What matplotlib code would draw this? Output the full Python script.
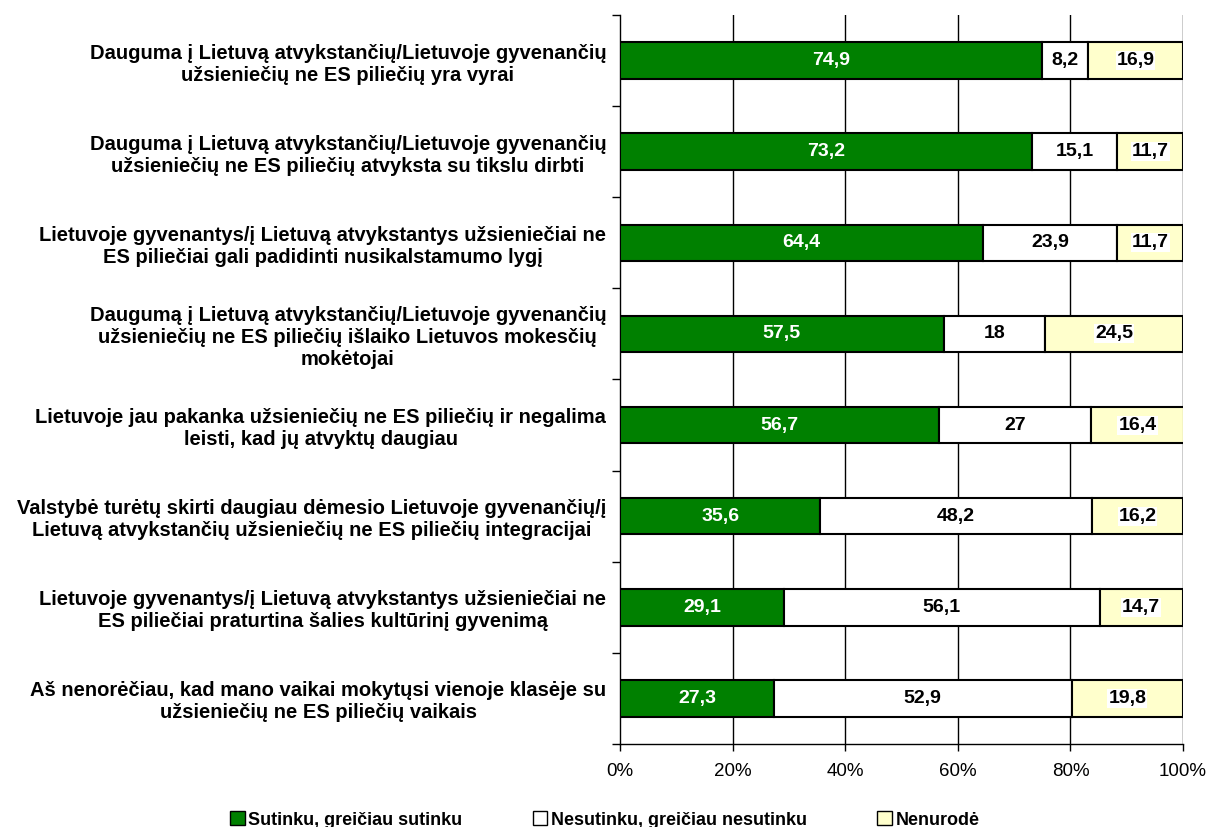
import numpy as np
import matplotlib
matplotlib.use("Agg")
import matplotlib.pyplot as plt
from matplotlib.patches import Patch

# Data (top to bottom as shown)
categories = [
    "Dauguma į Lietuvą atvykstančių/Lietuvoje gyvenančių\nužsieniečių ne ES piliečių yra vyrai",
    "Dauguma į Lietuvą atvykstančių/Lietuvoje gyvenančių\nužsieniečių ne ES piliečių atvyksta su tikslu dirbti",
    "Lietuvoje gyvenantys/į Lietuvą atvykstantys užsieniečiai ne\nES piliečiai gali padidinti nusikalstamumo lygį",
    "Daugumą į Lietuvą atvykstančių/Lietuvoje gyvenančių\nužsieniečių ne ES piliečių išlaiko Lietuvos mokesčių\nmokėtojai",
    "Lietuvoje jau pakanka užsieniečių ne ES piliečių ir negalima\nleisti, kad jų atvyktų daugiau",
    "Valstybė turėtų skirti daugiau dėmesio Lietuvoje gyvenančių/į\nLietuvą atvykstančių užsieniečių ne ES piliečių integracijai",
    "Lietuvoje gyvenantys/į Lietuvą atvykstantys užsieniečiai ne\nES piliečiai praturtina šalies kultūrinį gyvenimą",
    "Aš nenorėčiau, kad mano vaikai mokytųsi vienoje klasėje su\nužsieniečių ne ES piliečių vaikais",
]
agree = [74.9, 73.2, 64.4, 57.5, 56.7, 35.6, 29.1, 27.3]
disagree = [8.2, 15.1, 23.9, 18, 27, 48.2, 56.1, 52.9]
no_answer = [16.9, 11.7, 11.7, 24.5, 16.4, 16.2, 14.7, 19.8]
series_names = ["Sutinku, greičiau sutinku", "Nesutinku, greičiau nesutinku", "Nenurodė"]
x_ticks = [0, 20, 40, 60, 80, 100]

plt.rcParams["font.family"] = ["Liberation Sans", "DejaVu Sans"]

fig = plt.figure(figsize=(12.07, 8.27), dpi=100)
ax = fig.add_axes([0.5137, 0.1004, 0.4665, 0.8815])

n = len(categories)
y = np.arange(n)
colors = ["#008000", "#FFFFFF", "#FFFFCC"]
series = [agree, disagree, no_answer]

left = np.zeros(n)
for vals, col in zip(series, colors):
    vals = np.array(vals, dtype=float)
    ax.barh(y, vals, left=left, height=0.4, color=col, edgecolor="black",
            linewidth=1.5, zorder=3)
    for yi, (l, v) in enumerate(zip(left, vals)):
        txt = f"{v:g}".replace(".", ",")
        tc = "white" if col == "#008000" else "black"
        kw = {}
        if col == "#FFFFCC":
            kw["bbox"] = dict(boxstyle="square,pad=0.05", facecolor="white", edgecolor="none")
        ax.text(l + v / 2, yi, txt, ha="center", va="center", color=tc,
                fontsize=14, fontweight="bold", zorder=4, **kw)
    left += vals

ax.set_xlim(0, 100)
ax.set_ylim(n - 0.5, -0.5)

ax.set_xticks(x_ticks)
ax.set_xticklabels([f"{t}%" for t in x_ticks], fontsize=13.5)
ax.tick_params(axis="x", direction="out", length=5, width=1, pad=9)
for t in x_ticks[1:]:
    ax.axvline(t, color="black", linewidth=1, zorder=1)

ax.set_yticks(y)
ax.set_yticklabels(categories, fontsize=14.5, fontweight="bold")
for lab in ax.get_yticklabels():
    lab.set_multialignment("center")
ax.tick_params(axis="y", which="major", length=0, pad=10)
ax.set_yticks(np.arange(n + 1) - 0.5, minor=True)
ax.tick_params(axis="y", which="minor", direction="out", length=6, width=1)

for s in ["top", "right"]:
    ax.spines[s].set_visible(False)
ax.spines["left"].set_linewidth(1)
ax.spines["bottom"].set_linewidth(1)

handles = [Patch(facecolor=c, edgecolor="black", linewidth=1) for c in colors]
fig.legend(handles, series_names, loc="center", bbox_to_anchor=(0.501, 0.0085),
           ncol=3, frameon=False, prop={"weight": "bold", "size": 13},
           handlelength=0.8, handleheight=0.8, handletextpad=0.2,
           columnspacing=3.9, borderpad=0)

fig.savefig("out.png", dpi=100)
